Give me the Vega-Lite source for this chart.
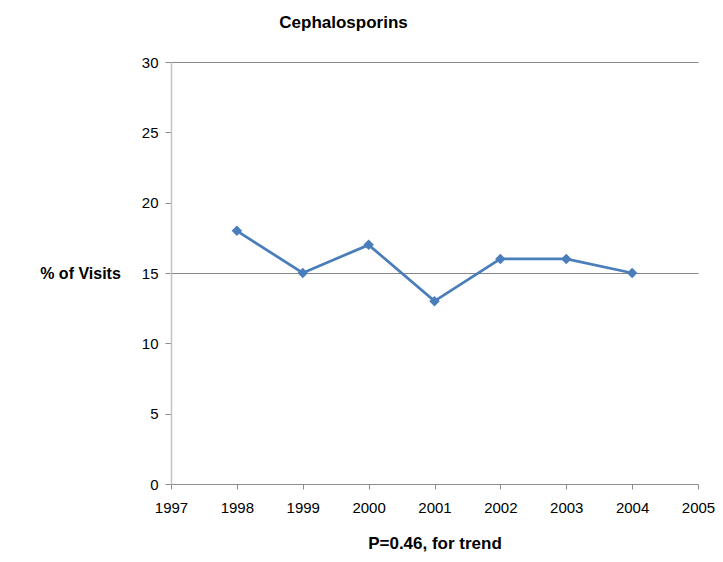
{
  "$schema": "https://vega.github.io/schema/vega-lite/v6.json",
  "width": 527,
  "height": 422,
  "autosize": {"type": "none"},
  "padding": {"left": 171, "top": 62, "right": 25, "bottom": 78},
  "background": "white",
  "config": {
    "view": {"stroke": null},
    "font": "Liberation Sans"
  },
  "title": {
    "text": "Cephalosporins",
    "font": "Liberation Sans",
    "fontSize": 17,
    "fontWeight": "bold",
    "color": "black",
    "anchor": "middle",
    "baseline": "alphabetic",
    "dx": -91,
    "offset": 10
  },
  "data": {
    "values": [
      {"year": 1998, "pct": 18},
      {"year": 1999, "pct": 15},
      {"year": 2000, "pct": 17},
      {"year": 2001, "pct": 13},
      {"year": 2002, "pct": 16},
      {"year": 2003, "pct": 16},
      {"year": 2004, "pct": 15}
    ]
  },
  "encoding": {
    "x": {
      "field": "year",
      "type": "quantitative",
      "scale": {"domain": [1997, 2005], "nice": false, "zero": false},
      "axis": {
        "values": [1997, 1998, 1999, 2000, 2001, 2002, 2003, 2004, 2005],
        "format": "d",
        "grid": false,
        "labelFlush": false,
        "labelOverlap": false,
        "domainColor": "#8c8c8c",
        "domainWidth": 1,
        "tickColor": "#8c8c8c",
        "tickSize": 5,
        "labelFontSize": 15,
        "labelColor": "black",
        "labelPadding": 11,
        "title": "P=0.46, for trend",
        "titleFontSize": 17,
        "titleFontWeight": "bold",
        "titleColor": "black",
        "titleBaseline": "alphabetic",
        "titleAlign": "center",
        "titleX": 263.5,
        "titleY": 64
      }
    },
    "y": {
      "field": "pct",
      "type": "quantitative",
      "scale": {"domain": [0, 30], "nice": false},
      "axis": {
        "values": [0, 5, 10, 15, 20, 25, 30],
        "grid": true,
        "labelFlush": false,
        "gridColor": "#868686",
        "gridOpacity": {"condition": {"test": "datum.value === 15 || datum.value === 30", "value": 1}, "value": 0},
        "domainColor": "#c4c4c4",
        "domainWidth": 1.5,
        "tickColor": "#8c8c8c",
        "tickSize": 6,
        "labelFontSize": 15,
        "labelColor": "black",
        "labelPadding": 7,
        "title": "% of Visits",
        "titleAngle": 0,
        "titleFontSize": 16,
        "titleFontWeight": "bold",
        "titleColor": "black",
        "titleAlign": "center",
        "titleBaseline": "middle",
        "titleX": -91,
        "titleY": 211
      }
    }
  },
  "layer": [
    {
      "mark": {"type": "line", "color": "#4a7ebb", "strokeWidth": 2.75}
    },
    {
      "mark": {"type": "point", "shape": "diamond", "filled": true, "color": "#4a7ebb", "opacity": 1, "size": 110}
    }
  ]
}
